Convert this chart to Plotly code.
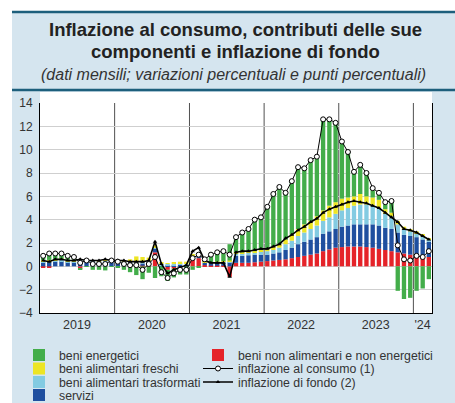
import plotly.graph_objects as go
import pandas as pd

# ---------------- data (Jan 2019 - Mar 2024, monthly) ----------------
months = pd.date_range("2019-01-01", periods=63, freq="MS")

beni_non_alimentari = [
    -0.1, -0.1, 0.0, 0.0, 0.0, 0.0, -0.2, 0.0, 0.0, 0.0, 0.0, 0.0,
    0.0, 0.0, 0.05, 0.05, 0.05, 0.05, 1.2, 0.0, -0.3, -0.2, -0.1, 0.0,
    0.6, 0.7, 0.1, 0.05, 0.05, 0.05, -0.9, 0.3, 0.3, 0.3, 0.35, 0.4,
    0.45, 0.5, 0.55, 0.6, 0.7, 0.8, 0.9, 1.0, 1.1, 1.3, 1.45, 1.6,
    1.65, 1.7, 1.7, 1.7, 1.65, 1.6, 1.5, 1.4, 1.3, 1.2, 1.1, 1.0,
    0.9, 0.85, 0.8]
servizi = [
    0.35, 0.35, 0.4, 0.45, 0.35, 0.35, 0.45, 0.4, 0.4, 0.35, 0.4, 0.35,
    0.35, 0.35, 0.25, 0.2, 0.2, 0.25, 0.35, 0.1, 0.1, 0.1, 0.15, 0.1,
    0.3, 0.3, 0.2, 0.2, 0.25, 0.3, 0.35, 0.6, 0.6, 0.65, 0.65, 0.6,
    0.55, 0.6, 0.65, 0.8, 0.9, 1.1, 1.2, 1.3, 1.4, 1.5, 1.55, 1.6,
    1.75, 1.8, 1.9, 1.9, 1.95, 2.0, 2.0, 1.9, 1.9, 1.7, 1.6, 1.6,
    1.6, 1.45, 1.3]
alimentari_trasformati = [
    0.1, 0.1, 0.1, 0.1, 0.1, 0.1, 0.1, 0.1, 0.1, 0.1, 0.1, 0.1,
    0.1, 0.1, 0.15, 0.2, 0.2, 0.15, 0.1, 0.1, 0.1, 0.1, 0.1, 0.1,
    0.05, 0.05, 0.05, 0.05, 0.05, 0.05, 0.1, 0.2, 0.2, 0.2, 0.2, 0.25,
    0.3, 0.3, 0.4, 0.5, 0.6, 0.7, 0.8, 0.9, 1.0, 1.1, 1.2, 1.3,
    1.4, 1.5, 1.6, 1.7, 1.7, 1.6, 1.5, 1.2, 1.1, 0.7, 0.5, 0.4,
    0.35, 0.3, 0.2]
alimentari_freschi = [
    0.1, 0.1, 0.1, 0.1, 0.1, 0.1, 0.05, 0.05, 0.0, 0.05, 0.05, 0.1,
    0.05, 0.05, 0.15, 0.4, 0.35, 0.3, 0.15, 0.15, 0.05, 0.15, 0.15, 0.2,
    0.05, 0.05, 0.05, 0.05, 0.05, 0.05, 0.05, 0.1, 0.1, 0.1, 0.1, 0.15,
    0.2, 0.3, 0.3, 0.4, 0.5, 0.6, 0.7, 0.7, 0.8, 0.9, 1.0, 1.0,
    1.0, 0.9, 0.8, 0.9, 0.7, 0.7, 0.7, 0.4, 0.3, 0.3, 0.2, 0.2,
    0.15, 0.1, 0.1]
energetici = [
    0.45, 0.65, 0.5, 0.45, 0.35, 0.25, -0.1, -0.05, -0.3, -0.3, -0.35, -0.05,
    -0.1, -0.3, -0.5, -0.75, -1.1, -0.55, -1.0, -0.85, -0.95, -0.75, -0.6, -0.7,
    -0.3, -0.1, 0.2, 0.65, 0.8, 0.85, 1.4, 1.3, 1.7, 1.95, 2.7, 2.8,
    3.6, 4.5, 4.9, 4.0, 4.6, 5.3, 4.8, 5.2, 5.1, 7.8, 7.4, 6.8,
    4.9, 3.9, 2.1, 2.5, 2.0, 0.8, 0.6, 0.6, 1.0, -2.1, -2.8, -2.7,
    -2.1, -1.9, -1.1]
inflazione_consumo = [
    0.9, 1.1, 1.1, 1.1, 0.9, 0.8, 0.3, 0.5, 0.2, 0.2, 0.2, 0.5,
    0.4, 0.2, 0.1, 0.1, -0.3, 0.2, 0.8, -0.5, -1.0, -0.6, -0.3, -0.3,
    0.7, 1.0, 0.6, 1.0, 1.2, 1.3, 1.0, 2.5, 2.9, 3.2, 4.0, 4.2,
    5.1, 6.2, 6.8, 6.3, 7.3, 8.5, 8.4, 9.1, 9.4, 12.6, 12.6, 12.3,
    10.7, 9.8, 8.1, 8.7, 8.0, 6.7, 6.3, 5.5, 5.6, 1.8, 0.6, 0.5,
    0.9, 0.8, 1.3]
inflazione_fondo = [
    0.5, 0.4, 0.6, 0.6, 0.5, 0.5, 0.6, 0.5, 0.5, 0.5, 0.6, 0.5,
    0.5, 0.5, 0.4, 0.4, 0.4, 0.5, 2.1, 0.2, -0.6, -0.3, -0.1, 0.1,
    1.3, 1.6, 0.5, 0.3, 0.3, 0.3, -0.9, 1.2, 1.3, 1.3, 1.4, 1.5,
    1.5, 1.7, 1.9, 2.4, 2.7, 3.1, 3.4, 3.8, 4.1, 4.6, 4.9, 5.1,
    5.3, 5.5, 5.6, 5.5, 5.4, 5.2, 5.0, 4.6, 4.2, 3.8, 3.2, 3.1,
    2.9, 2.6, 2.3]

year_tick_vals = ["2019-07-01", "2020-07-01", "2021-07-01", "2022-07-01", "2023-07-01", "2024-02-15"]
year_tick_text = ["2019", "2020", "2021", "2022", "2023", "'24"]
year_boundaries = ["2020-01-01", "2021-01-01", "2022-01-01", "2023-01-01", "2024-01-01"]
y_ticks = [-4, -2, 0, 2, 4, 6, 8, 10, 12, 14]

# ---------------- figure ----------------
FONT = "Liberation Sans, Arial, sans-serif"
W, H = 455, 403
ML, MR, MT, MB = 40, 23, 103, 90
PW, PH = W - ML - MR, H - MT - MB


def px_x(p):
    return (p - ML) / PW


def px_y(p):
    return (H - MB - p) / PH


fig = go.Figure()

bar_common = dict(xperiod="M1", xperiodalignment="middle", marker_line_width=0)
fig.add_trace(go.Bar(x=months, y=beni_non_alimentari, name="beni non alimentari e non energetici",
                     marker_color="#e52329", legend="legend5", **bar_common))
fig.add_trace(go.Bar(x=months, y=servizi, name="servizi",
                     marker_color="#1f4f9f", legend="legend4", **bar_common))
fig.add_trace(go.Bar(x=months, y=alimentari_trasformati, name="beni alimentari trasformati",
                     marker_color="#83cbe2", legend="legend3", **bar_common))
fig.add_trace(go.Bar(x=months, y=alimentari_freschi, name="beni alimentari freschi",
                     marker_color="#ede524", legend="legend2", **bar_common))
fig.add_trace(go.Bar(x=months, y=energetici, name="beni energetici",
                     marker_color="#43ad4a", legend="legend", **bar_common))

fig.add_trace(go.Scatter(x=months, y=inflazione_fondo, name="inflazione di fondo (2)",
                         mode="lines+markers", xperiod="M1", xperiodalignment="middle",
                         line=dict(color="black", width=1.6),
                         marker=dict(symbol="triangle-up", size=4, color="black"),
                         legend="legend7"))
fig.add_trace(go.Scatter(x=months, y=inflazione_consumo, name="inflazione al consumo (1)",
                         mode="lines+markers", xperiod="M1", xperiodalignment="middle",
                         line=dict(color="black", width=1),
                         marker=dict(symbol="circle", size=5, color="white",
                                     line=dict(color="black", width=1)),
                         legend="legend6"))

shapes = [
    # light blue panel
    dict(type="rect", xref="paper", yref="paper", x0=px_x(12), x1=px_x(W + 5),
         y0=px_y(H + 5), y1=px_y(12), fillcolor="#d5e5ef", line_width=0, layer="below"),
    # white plot box (extends a little above the 14 line)
    dict(type="rect", xref="paper", yref="paper", x0=0, x1=1, y0=0, y1=px_y(92),
         fillcolor="white", line_width=0, layer="below"),
    # title box rules
    dict(type="line", xref="paper", yref="paper", x0=px_x(12), x1=px_x(W + 5),
         y0=px_y(12), y1=px_y(12), line=dict(color="#1d5f7c", width=2.5), layer="below"),
    dict(type="line", xref="paper", yref="paper", x0=px_x(12), x1=px_x(W + 5),
         y0=px_y(90), y1=px_y(90), line=dict(color="#1d5f7c", width=2.5), layer="below"),
]
for b in year_boundaries:
    shapes.append(dict(type="line", xref="x", yref="y", x0=b, x1=b, y0=-4, y1=14,
                       line=dict(color="#505050", width=1), layer="below"))

annotations = [
    dict(text="<b>Inflazione al consumo, contributi delle sue</b>", xref="paper", yref="paper",
         x=px_x(235), y=px_y(30), showarrow=False, xanchor="center", yanchor="middle",
         font=dict(size=18.5, color="#222222", family=FONT)),
    dict(text="<b>componenti e inflazione di fondo</b>", xref="paper", yref="paper",
         x=px_x(235), y=px_y(52), showarrow=False, xanchor="center", yanchor="middle",
         font=dict(size=18.5, color="#222222", family=FONT)),
    dict(text="<i>(dati mensili; variazioni percentuali e punti percentuali)</i>", xref="paper",
         yref="paper", x=px_x(233), y=px_y(74), showarrow=False, xanchor="center",
         yanchor="middle", font=dict(size=16, color="#333333", family=FONT)),
]


def leg(px_left, py_center):
    return dict(x=px_x(px_left), y=px_y(py_center), xanchor="left", yanchor="middle",
                orientation="v", bgcolor="rgba(0,0,0,0)", borderwidth=0,
                font=dict(size=12.3, color="#333333", family=FONT), itemwidth=30)


LX, RX = 19, 198
fig.update_layout(
    width=W, height=H,
    margin=dict(l=ML, r=MR, t=MT, b=MB, pad=0, autoexpand=False),
    paper_bgcolor="white", plot_bgcolor="white",
    barmode="relative", bargap=0.28,
    font=dict(family=FONT, size=11, color="#333333"),
    shapes=shapes, annotations=annotations,
    xaxis=dict(type="date", range=["2019-01-01", "2024-04-01"],
               tickmode="array", tickvals=year_tick_vals, ticktext=year_tick_text,
               ticks="", showgrid=False, zeroline=False,
               showline=True, linecolor="black", linewidth=1,
               tickfont=dict(size=12.5, color="#333333")),
    xaxis2=dict(type="date", overlaying="x", matches="x", anchor="y", side="bottom",
                tickmode="linear", tick0="2019-01-01", dtick="M1",
                ticks="inside", ticklen=3, tickcolor="#333333", tickwidth=1,
                showticklabels=False, showgrid=False, zeroline=False, showline=False),
    yaxis=dict(range=[-4, 14], tickmode="array", tickvals=y_ticks,
               showgrid=True, gridcolor="#cfcfcf", gridwidth=1, zeroline=False,
               showline=True, linecolor="black", linewidth=1, mirror=True,
               ticks="", ticklabelstandoff=4,
               tickfont=dict(size=12, color="#333333")),
    yaxis2=dict(range=[-4, 14], overlaying="y", matches="y", side="right",
                tickmode="array", tickvals=y_ticks, showgrid=False, zeroline=False,
                showline=False, ticks="", ticklabelstandoff=4,
                tickfont=dict(size=12, color="#333333")),
    legend=leg(LX, 355),
    legend2=leg(LX, 368.5),
    legend3=leg(LX, 382),
    legend4=leg(LX, 395),
    legend5=leg(RX, 355),
    legend6=leg(RX, 368.5),
    legend7=leg(RX, 382),
    showlegend=True,
)

fig.write_html("out.html", config={"displayModeBar": False},
               post_script="document.body.style.margin='0';document.body.style.overflow='hidden';")
